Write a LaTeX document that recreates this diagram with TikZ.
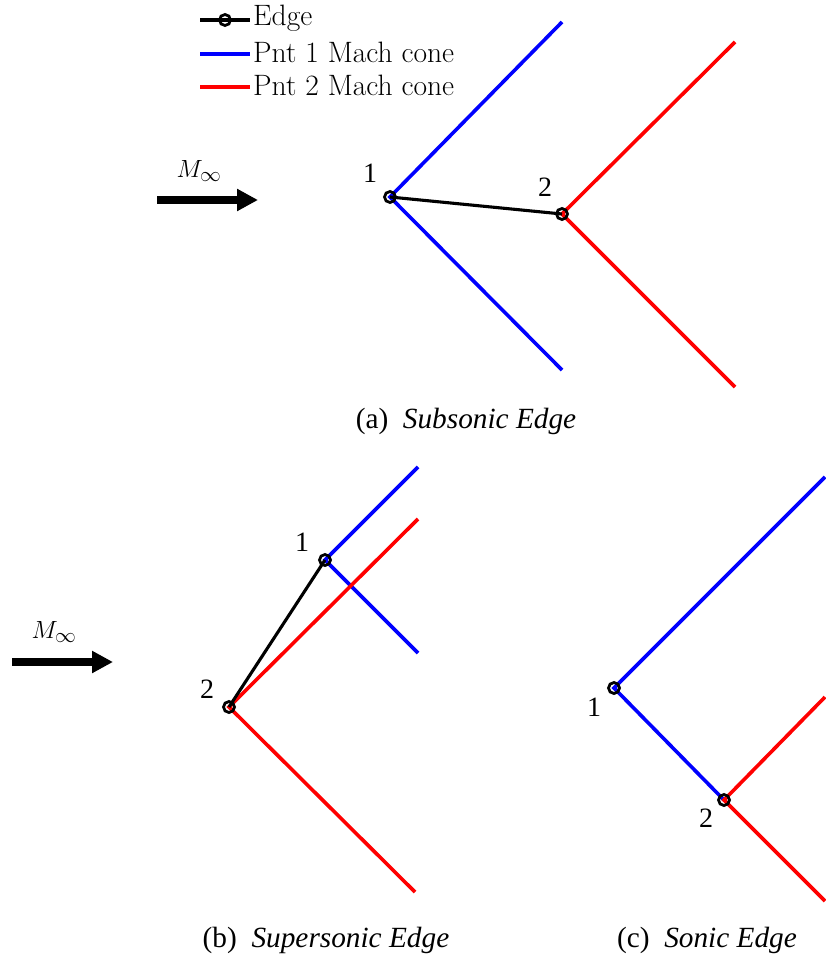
\documentclass[tikz,border=0pt]{standalone}
\usepackage{fontspec}
\newfontfamily\capfont{Liberation Serif}
\usetikzlibrary{arrows.meta}
\begin{document}
\begin{tikzpicture}[x=1pt,y=-1pt,
  vtx/.style={circle,draw=black,line width=2.8pt,minimum size=11pt,inner sep=0pt},
  cone1/.style={draw=blue,line width=3.6pt},
  cone2/.style={draw=red,line width=3.6pt},
  edgeline/.style={draw=black,line width=3.1pt},
  lbl/.style={font=\capfont\fontsize{28}{30}\selectfont,inner sep=0pt},
  captext/.style={font=\capfont\fontsize{29.3}{32}\selectfont,inner sep=0pt},
  leg/.style={font=\fontsize{29.5}{32}\selectfont,inner sep=0pt,anchor=west},
  flow/.style={line width=8pt,-{Triangle[length=21pt,width=21pt]}},
  mach/.style={font=\fontsize{31}{33}\selectfont,inner sep=0pt}]
\useasboundingbox (0,0) rectangle (825,960);

% ---------- legend ----------
\coordinate (l1a) at (200,20); \coordinate (l1b) at (250,20);
\coordinate (l2a) at (200,54); \coordinate (l2b) at (250,54);
\coordinate (l3a) at (200,87); \coordinate (l3b) at (250,87);
\draw[edgeline] (l1a) -- (l1b);
\node[vtx] (lc) at (225,20) {};
\draw[cone1] (l2a) -- (l2b);
\draw[cone2] (l3a) -- (l3b);
\node[leg] (t1) at (253,18) {Edge};
\node[leg] (t2) at (253,52) {Pnt 1 Mach cone};
\node[leg] (t3) at (253,85) {Pnt 2 Mach cone};

% ---------- panel (a) ----------
\coordinate (a1) at (390,197);
\coordinate (a2) at (562,214);
\coordinate (a1u) at (562,22);  \coordinate (a1d) at (562,370);
\coordinate (a2u) at (735,42);  \coordinate (a2d) at (735,387);
\draw[cone1] (a1u) -- (a1) -- (a1d);
\draw[cone2] (a2u) -- (a2) -- (a2d);
\draw[edgeline] (a1) -- (a2);
\node[vtx] (pa1) at (a1) {};
\node[vtx] (pa2) at (a2) {};
\node[lbl] (la1) at (370,173) {1};
\node[lbl] (la2) at (545,187) {2};
\coordinate (fa0) at (157,200); \coordinate (fa1) at (258,200);
\draw[flow] (fa0) -- (fa1);
\node[mach] (ma) at (199,171) {$M_\infty$};
\node[captext] (capa) at (466,421) {(a)\ \ \textit{Subsonic Edge}};

% ---------- panel (b) ----------
\coordinate (b1) at (325,560);
\coordinate (b2) at (229,707);
\coordinate (b1u) at (418,467); \coordinate (b1d) at (418,653);
\coordinate (b2u) at (418,519); \coordinate (b2d) at (415,892);
\draw[cone1] (b1u) -- (b1) -- (b1d);
\draw[cone2] (b2u) -- (b2) -- (b2d);
\draw[edgeline] (b2) -- (b1);
\node[vtx] (pb1) at (b1) {};
\node[vtx] (pb2) at (b2) {};
\node[lbl] (lb1) at (302,542) {1};
\node[lbl] (lb2) at (207,689) {2};
\coordinate (fb0) at (12,662); \coordinate (fb1) at (113,662);
\draw[flow] (fb0) -- (fb1);
\node[mach] (mb) at (54,632) {$M_\infty$};
\node[captext] (capb) at (326,940) {(b)\ \ \textit{Supersonic Edge}};

% ---------- panel (c) ----------
\coordinate (c1) at (614,688);
\coordinate (c2) at (724,800);
\coordinate (c1u) at (825,477);
\coordinate (c2u) at (825,697); \coordinate (c2d) at (825,901);
\draw[cone1] (c1u) -- (c1) -- (c2);
\draw[cone2] (c2u) -- (c2) -- (c2d);
\node[vtx] (pc1) at (c1) {};
\node[vtx] (pc2) at (c2) {};
\node[lbl] (lc1) at (594,707) {1};
\node[lbl] (lc2) at (706,818) {2};
\node[captext] (capc) at (707,940) {(c)\ \ \textit{Sonic Edge}};
\end{tikzpicture}
\end{document}
